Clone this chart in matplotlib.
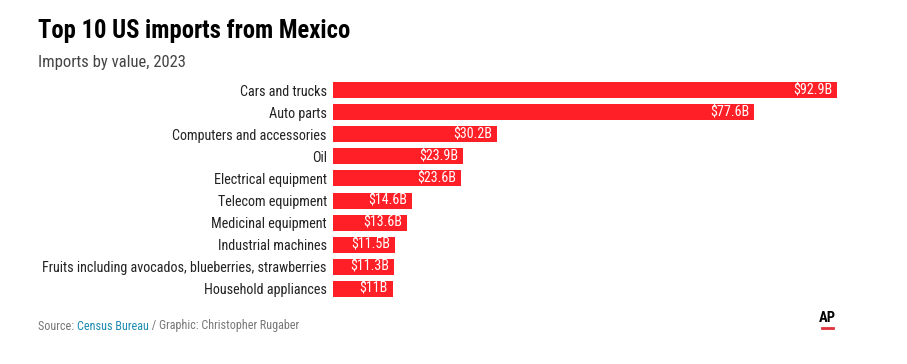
import matplotlib
matplotlib.use("Agg")
import matplotlib.pyplot as plt
from matplotlib import font_manager as fm

categories = ["Cars and trucks", "Auto parts", "Computers and accessories", "Oil",
              "Electrical equipment", "Telecom equipment", "Medicinal equipment",
              "Industrial machines", "Fruits including avocados, blueberries, strawberries",
              "Household appliances"]
values = [92.9, 77.6, 30.2, 23.9, 23.6, 14.6, 13.6, 11.5, 11.3, 11.0]
value_labels = ["$92.9B", "$77.6B", "$30.2B", "$23.9B", "$23.6B", "$14.6B",
                "$13.6B", "$11.5B", "$11.3B", "$11B"]

names = {f.name for f in fm.fontManager.ttflist}
FONT = next(n for n in ["Roboto Condensed", "Barlow Condensed", "Archivo Narrow",
                        "Asap Condensed", "Roboto"] if n in names)

W, H = 907, 364
fig = plt.figure(figsize=(W/100, H/100), dpi=100)
fig.canvas.draw()
R = fig.canvas.get_renderer()

def fit(text, target_px, weight="normal"):
    t = fig.text(0, 0, text, fontsize=10, family=FONT, fontweight=weight)
    w = t.get_window_extent(R).width
    t.remove()
    return 10 * target_px / w

left, right = 333/W, 837/W
top, bottom = 1-79/H, 1-300/H
ax = fig.add_axes([left, bottom, right-left, top-bottom])
y = list(range(len(categories)))
ax.barh(y, values, height=0.72, color="#ff1f26")
ax.set_xlim(0, 92.9)
ax.set_ylim(len(categories)-0.5, -0.5)
ax.set_yticks(y)
cat_fs = fit(categories[8], 285)
ax.set_yticklabels(categories, fontsize=cat_fs, family=FONT, color="#222222")
ax.tick_params(axis="y", length=0, pad=4.5)
ax.set_xticks([])
for s in ax.spines.values():
    s.set_visible(False)
val_fs = fit(value_labels[0], 39)
for yi, v, lab in zip(y, values, value_labels):
    ax.annotate(lab, (v, yi), xytext=(-3.5, 0), textcoords="offset points",
                ha="right", va="center", color="white", fontsize=val_fs, family=FONT)

fig.text(38/W, 1-31/H, "Top 10 US imports from Mexico",
         fontsize=fit("Top 10 US imports from Mexico", 313, "bold"), fontweight="bold",
         family=FONT, va="center", ha="left", color="black")
fig.text(38/W, 1-63/H, "Imports by value, 2023", fontsize=fit("Imports by value, 2023", 147),
         family=FONT, va="center", ha="left", color="#444444")

src_fs = fit("Source: Census Bureau / Graphic: Christopher Rugaber", 260)
t1 = fig.text(38/W, 1-326/H, "Source: ", fontsize=src_fs, family=FONT, color="#777777", va="center")
bb = t1.get_window_extent(R)
t2 = fig.text(bb.x1/W, 1-326/H, "Census Bureau", fontsize=src_fs, family=FONT, color="#1b8bb0", va="center")
bb2 = t2.get_window_extent(R)
fig.text(bb2.x1/W, 1-326/H, " / Graphic: Christopher Rugaber", fontsize=src_fs, family=FONT,
         color="#777777", va="center")
fig.text(827.5/W, 1-318/H, "AP", fontsize=10.5, fontweight="bold", family=FONT, color="black",
         va="center", ha="center")
fig.add_artist(plt.Line2D([822/W, 833/W], [1-328/H, 1-328/H], color="#e0323c", lw=2))

fig.savefig("out.png", dpi=100, facecolor="white")
